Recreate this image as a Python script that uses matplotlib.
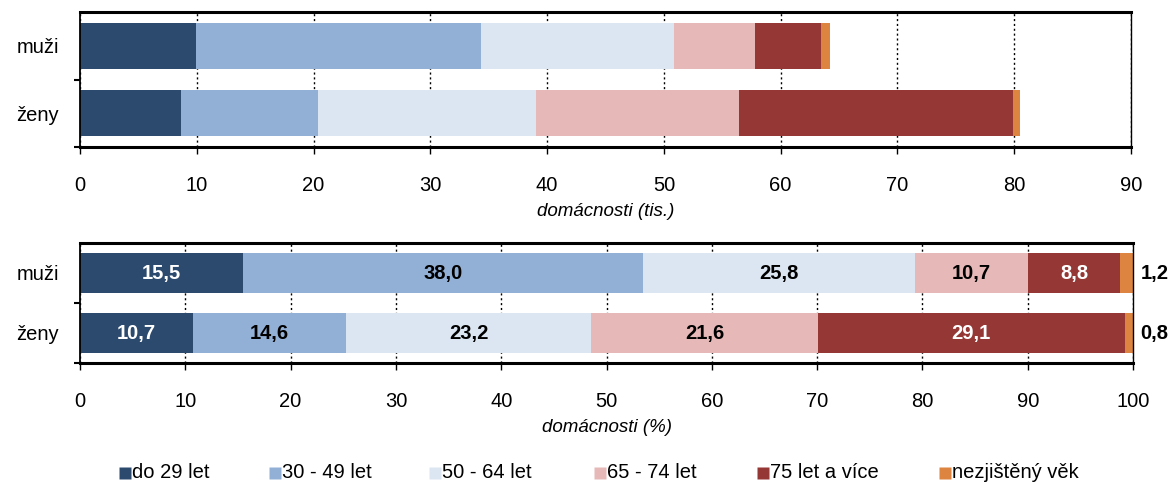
import numpy as np
import matplotlib
matplotlib.use("Agg")
import matplotlib.pyplot as plt

plt.rcParams["font.family"] = ["Liberation Sans", "DejaVu Sans"]

# --- data ---
groups = ["muži", "ženy"]
age_classes = ["do 29 let", "30 - 49 let", "50 - 64 let", "65 - 74 let", "75 let a více", "nezjištěný věk"]
colors = ["#2C4A6E", "#92B0D6", "#DCE6F2", "#E6B9B8", "#953735", "#DD8540"]
label_colors = ["white", "black", "black", "black", "white", "black"]

# households, thousands
tis_muzi = [9.95, 24.4, 16.55, 6.87, 5.65, 0.77]
tis_zeny = [8.61, 11.75, 18.68, 17.39, 23.43, 0.64]

# households, percent
pct_muzi = [15.5, 38.0, 25.8, 10.7, 8.8, 1.2]
pct_zeny = [10.7, 14.6, 23.2, 21.6, 29.1, 0.8]

title = "Domácnosti jednotlivců podle pohlaví a věku"

W, H = 1172, 483
fig = plt.figure(figsize=(W / 100, H / 100), dpi=100)
ax1 = fig.add_axes([80 / W, 1 - 147 / H, 1051 / W, 135 / H])
ax2 = fig.add_axes([80 / W, 1 - 363 / H, 1053 / W, 120 / H])

FS = 14.5


def style_axes(ax, xmax, xlabel):
    ax.set_xlim(0, xmax)
    ax.set_ylim(1.5, -0.5)
    ax.set_yticks([0, 1])
    ax.set_yticklabels(groups, fontsize=FS)
    ax.set_yticks([0.5, 1.5], minor=True)
    ax.tick_params(axis="y", which="major", length=0, pad=15)
    ax.tick_params(axis="y", which="minor", length=4, width=1.5, direction="out")
    ax.set_xticks(np.arange(0, xmax + 1, 10))
    ax.tick_params(axis="x", labelsize=FS, length=5, width=1, direction="out", pad=16)
    ax.grid(axis="x", color="black", linestyle=(0, (1.5, 2)), linewidth=1)
    ax.set_axisbelow(True)
    for s in ["top", "bottom"]:
        ax.spines[s].set_linewidth(2.2)
    ax.spines["left"].set_linewidth(1.3)
    ax.spines["right"].set_linewidth(1.0)
    ax.set_xlabel(xlabel, fontsize=13.5, style="italic", labelpad=6)


def stacked(ax, rows, height):
    for r, vals in enumerate(rows):
        left = 0
        for k, v in enumerate(vals):
            ax.barh(r, v, left=left, height=height, color=colors[k], edgecolor="none", zorder=2)
            left += v


stacked(ax1, [tis_muzi, tis_zeny], 0.68)
style_axes(ax1, 90, "domácnosti (tis.)")

stacked(ax2, [pct_muzi, pct_zeny], 0.66)
style_axes(ax2, 100, "domácnosti (%)")

for r, vals in enumerate([pct_muzi, pct_zeny]):
    left = 0
    for k, v in enumerate(vals):
        txt = f"{v:.1f}".replace(".", ",")
        if k == len(vals) - 1:
            ax2.text(100.7, r, txt, ha="left", va="center", fontsize=FS,
                     fontweight="bold", color="black", clip_on=False)
        else:
            ax2.text(left + v / 2, r, txt, ha="center", va="center", fontsize=FS,
                     fontweight="bold", color=label_colors[k], zorder=3)
        left += v

fig.text(0.5, 1.004, title, ha="center", va="bottom", fontsize=15, fontweight="bold")

# legend drawn as markers + texts
leg_x = [125, 275, 435, 600, 763, 945]
leg_y = 1 - 473 / H
for x, c, lab in zip(leg_x, colors, age_classes):
    fig.lines.append(plt.Line2D([x / W], [leg_y], marker="s", markersize=8.5,
                                markerfacecolor=c, markeredgecolor="none",
                                linestyle="none", transform=fig.transFigure))
    fig.text((x + 7) / W, leg_y, lab, ha="left", va="center", fontsize=FS)

fig.savefig("out.png", dpi=100)
